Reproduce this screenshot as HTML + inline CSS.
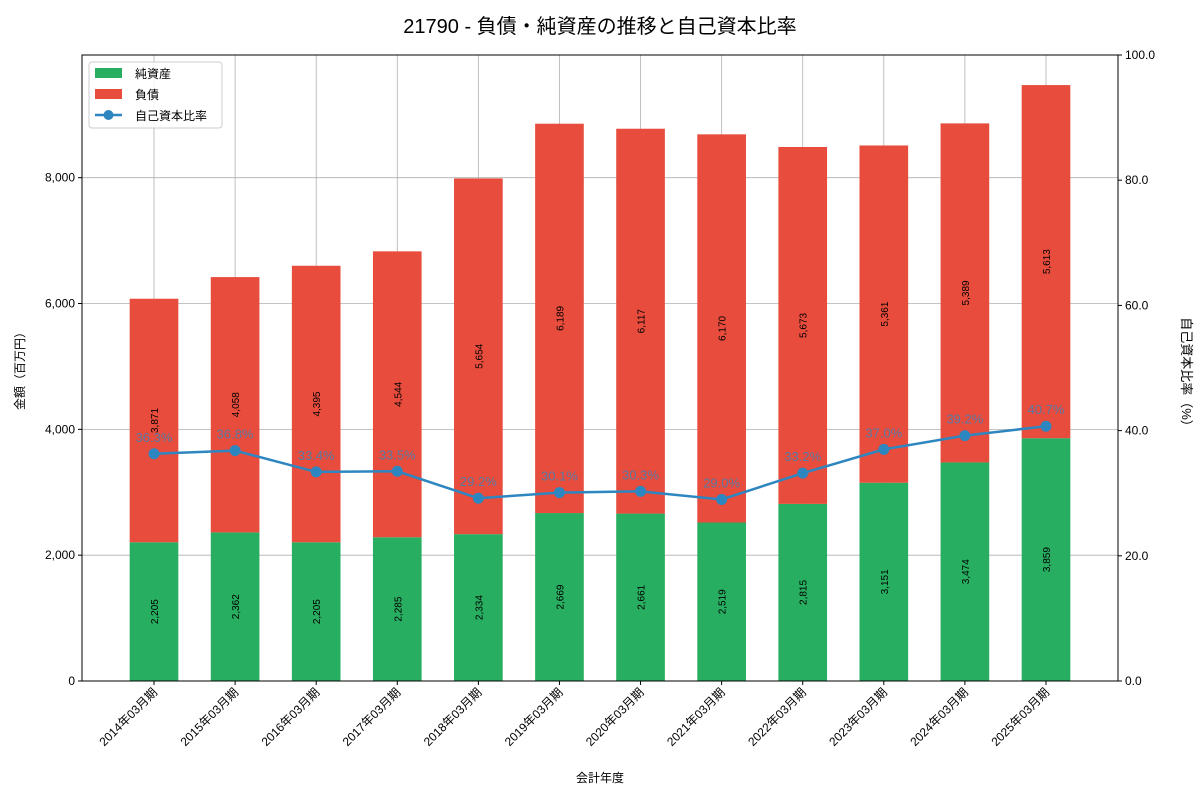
<!DOCTYPE html>
<html><head><meta charset="utf-8"><style>
body{margin:0;background:#fff;font-family:"Liberation Sans","Noto Sans CJK JP",sans-serif}
svg text{font-family:"Liberation Sans","Noto Sans CJK JP",sans-serif}
</style></head><body>
<svg id="c" width="1200" height="800" xmlns="http://www.w3.org/2000/svg">
<text x="600" y="33" text-anchor="middle" font-size="20">21790 - 負債・純資産の推移と自己資本比率</text>
</svg>
<script>
const categories=["2014年03月期","2015年03月期","2016年03月期","2017年03月期","2018年03月期","2019年03月期","2020年03月期","2021年03月期","2022年03月期","2023年03月期","2024年03月期","2025年03月期"];
const netAssets=[2205,2362,2205,2285,2334,2669,2661,2519,2815,3151,3474,3859];
const liabilities=[3871,4058,4395,4544,5654,6189,6117,6170,5673,5361,5389,5613];
const equityRatio=[36.3,36.8,33.4,33.5,29.2,30.1,30.3,29.0,33.2,37.0,39.2,40.7];
const leftTicks=[0,2000,4000,6000,8000];
const rightTicks=[0,20,40,60,80,100];

const svg=document.getElementById('c');
const NS='http://www.w3.org/2000/svg';
const L=82,R=1118,T=55,B=681,leftMax=9950,rightMax=100;
const xmin=-0.888,xmax=categories.length-1+0.888;
const X=i=>L+(i-xmin)/(xmax-xmin)*(R-L);
const Y=v=>B-v/leftMax*(B-T);
const Y2=v=>B-v/rightMax*(B-T);
const bw=0.6*(R-L)/(xmax-xmin);
function el(tag,attrs,name,text){const e=document.createElementNS(NS,tag);for(const k in attrs)e.setAttribute(k,attrs[k]);


if(text!==undefined)e.textContent=text;svg.appendChild(e);return e;}
const fmt=v=>v.toLocaleString('en-US');
// grid
leftTicks.forEach(t=>{el('line',{x1:L,x2:R,y1:Y(t),y2:Y(t),stroke:'#b0b0b0','stroke-width':0.8},'y-gridline');});
categories.forEach((c,i)=>{el('line',{x1:X(i),x2:X(i),y1:T,y2:B,stroke:'#b0b0b0','stroke-width':0.8},'x-gridline');});
// bars
categories.forEach((c,i)=>{
 el('rect',{x:X(i)-bw/2,y:Y(netAssets[i]),width:bw,height:B-Y(netAssets[i]),fill:'#27ae60'},'bar-net-assets');
 const top=netAssets[i]+liabilities[i];
 el('rect',{x:X(i)-bw/2,y:Y(top),width:bw,height:Y(netAssets[i])-Y(top),fill:'#e74c3c'},'bar-liabilities');
 let cy=Y(netAssets[i]/2);
 el('text',{x:X(i)+4,y:cy,'font-size':10,'text-anchor':'middle',transform:`rotate(-90 ${X(i)+4} ${cy})`},'net-assets-value',fmt(netAssets[i]));
 cy=Y(netAssets[i]+liabilities[i]/2);
 el('text',{x:X(i)+4,y:cy,'font-size':10,'text-anchor':'middle',transform:`rotate(-90 ${X(i)+4} ${cy})`},'liabilities-value',fmt(liabilities[i]));
});
// line
el('polyline',{points:equityRatio.map((v,i)=>X(i)+','+Y2(v)).join(' '),fill:'none',stroke:'#2e86c1','stroke-width':2.5},'equity-ratio-line');
equityRatio.forEach((v,i)=>{
 el('circle',{cx:X(i),cy:Y2(v),r:5.5,fill:'#2e86c1'},'equity-ratio-point');
 el('text',{x:X(i),y:Y2(v)-12,'font-size':13,'text-anchor':'middle',fill:'#2e86c1','fill-opacity':0.75},'equity-ratio-label',v.toFixed(1)+'%');
});
// frame
el('rect',{x:L,y:T,width:R-L,height:B-T,fill:'none',stroke:'#000','stroke-width':1},'plot-frame');
leftTicks.forEach(t=>{el('line',{x1:L-4,x2:L,y1:Y(t),y2:Y(t),stroke:'#000'},'y-tick');
 el('text',{x:L-7,y:Y(t)+4,'font-size':12,'text-anchor':'end'},'y-tick-label',fmt(t));});
rightTicks.forEach(t=>{el('line',{x1:R,x2:R+4,y1:Y2(t),y2:Y2(t),stroke:'#000'},'y2-tick');
 el('text',{x:R+7,y:Y2(t)+4,'font-size':12},'y2-tick-label',t.toFixed(1));});
categories.forEach((c,i)=>{el('line',{x1:X(i),x2:X(i),y1:B,y2:B+4,stroke:'#000'},'x-tick');
 el('text',{x:X(i)+4,y:B+12,'font-size':12,'text-anchor':'end',transform:`rotate(-45 ${X(i)+4} ${B+12})`},'x-tick-label',c);});
el('text',{x:600,y:782,'font-size':12,'text-anchor':'middle'},'x-axis-title','会計年度');
el('text',{x:24,y:368,'font-size':12,'text-anchor':'middle',transform:'rotate(-90 24 368)'},'y-axis-title','金額（百万円）');
el('text',{x:1182,y:375,'font-size':13,'text-anchor':'middle',transform:'rotate(90 1182 375)'},'y2-axis-title','自己資本比率（%）');
// legend
el('rect',{x:89,y:62,width:133,height:66,fill:'#fff','fill-opacity':0.85,stroke:'#ccc',rx:3},'legend');
el('rect',{x:95,y:68,width:27,height:10,fill:'#27ae60'},'legend-swatch-net-assets');
el('text',{x:135,y:78,'font-size':12},'legend-label-net-assets','純資産');
el('rect',{x:95,y:89,width:27,height:10,fill:'#e74c3c'},'legend-swatch-liabilities');
el('text',{x:135,y:99,'font-size':12},'legend-label-liabilities','負債');
el('line',{x1:95,x2:122,y1:115,y2:115,stroke:'#2e86c1','stroke-width':2.5},'legend-swatch-ratio');
el('circle',{cx:108.5,cy:115,r:5,fill:'#2e86c1'},'legend-marker-ratio');
el('text',{x:135,y:120,'font-size':12},'legend-label-ratio','自己資本比率');
</script>
</body></html>
